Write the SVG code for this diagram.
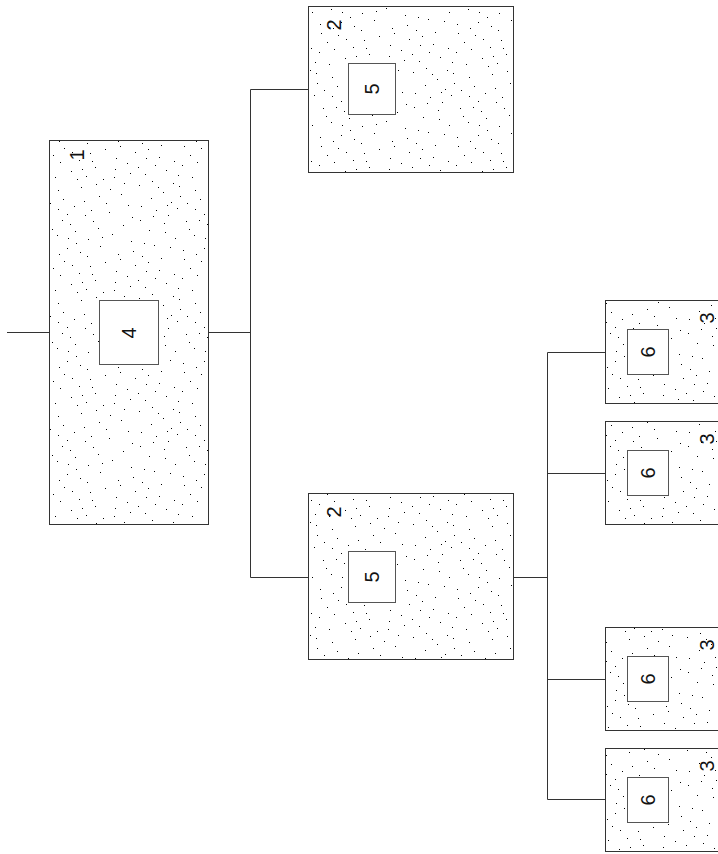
<svg xmlns="http://www.w3.org/2000/svg" width="718" height="854" viewBox="0 0 718 854">
<defs>
<pattern id="dots" patternUnits="userSpaceOnUse" width="137" height="113">
<path fill="none" stroke="#000" stroke-width="1" d="M12,4.5h1M57,9.5h1M98,2.5h1M131,15.5h1M33,21.5h1M76,17.5h1M5,30.5h1M118,28.5h1M64,35.5h1M22,44.5h1M90,40.5h1M45,52.5h1M127,50.5h1M8,61.5h1M71,58.5h1M103,66.5h1M36,70.5h1M58,77.5h1M14,85.5h1M121,81.5h1M84,88.5h1M40,95.5h1M67,101.5h1M109,99.5h1M3,107.5h1M27,110.5h1M93,108.5h1M52,3.5h1M80,26.5h1M17,19.5h1M112,8.5h1M47,33.5h1M135,39.5h1M29,57.5h1M86,63.5h1M60,49.5h1M2,72.5h1M124,70.5h1M99,83.5h1M19,97.5h1M74,93.5h1M132,104.5h1M43,83.5h1M9,45.5h1M55,64.5h1M115,56.5h1M38,12.5h1M88,13.5h1M67,22.5h1M24,32.5h1M105,36.5h1M79,47.5h1M50,90.5h1M31,102.5h1M128,92.5h1M95,54.5h1M15,68.5h1M62,107.5h1M81,74.5h1M41,62.5h1M7,17.5h1M100,20.5h1M70,111.5h1M120,33.5h1M53,42.5h1M26,79.5h1M91,97.5h1M110,76.5h1M34,89.5h1M4,93.5h1M75,5.5h1M130,60.5h1M18,52.5h1M63,86.5h1M87,30.5h1M46,24.5h1M116,45.5h1M28,6.5h1M96,71.5h1M58,96.5h1M11,36.5h1M77,66.5h1M123,112.5h1M37,48.5h1M85,102.5h1M68,12.5h1M106,90.5h1M21,74.5h1M49,108.5h1M133,25.5h1M1,54.5h1M92,48.5h1M42,73.5h1M72,39.5h1M114,64.5h1M59,28.5h1M30,92.5h1M102,11.5h1M82,56.5h1M16,103.5h1"/>
</pattern>
</defs>
<style>
.outer{fill:url(#dots);stroke:#333;stroke-width:1}
.inner{fill:#fff;stroke:#555;stroke-width:1}
.lbl{font-family:"Liberation Sans",Arial,sans-serif;font-size:20px;fill:#111;text-anchor:middle;dominant-baseline:central}
.conn{fill:none;stroke:#333;stroke-width:1}
</style>
<rect width="718" height="854" fill="#fff"/>
<g id="connectors" class="conn">
<path d="M7,332.5H49"/>
<path d="M208,332.5H250.5M250.5,89.5V577.5M250.5,89.5H308M250.5,577.5H308"/>
<path d="M513,577.5H547.5M547.5,352.5V799.5M547.5,352.5H605M547.5,473.5H605M547.5,679.5H605M547.5,799.5H605"/>
</g>
<g id="node1">
<rect class="outer" x="49.5" y="140.5" width="159" height="384"/>
<text class="lbl" transform="translate(77,155) rotate(-90)">1</text>
<rect class="inner" x="99.5" y="300.5" width="59" height="64"/>
<text class="lbl" transform="translate(129,333) rotate(-90)">4</text>
</g>
<g id="node2a">
<rect class="outer" x="308.5" y="6.5" width="205" height="166"/>
<text class="lbl" transform="translate(334,25) rotate(-90)">2</text>
<rect class="inner" x="348.5" y="63.5" width="47" height="51"/>
<text class="lbl" transform="translate(372,89) rotate(-90)">5</text>
</g>
<g id="node2b">
<rect class="outer" x="308.5" y="493.5" width="205" height="166"/>
<text class="lbl" transform="translate(334,512) rotate(-90)">2</text>
<rect class="inner" x="348.5" y="551.5" width="47" height="51"/>
<text class="lbl" transform="translate(372,577) rotate(-90)">5</text>
</g>
<g id="node3a">
<rect class="outer" x="605.5" y="300.5" width="120" height="103"/>
<text class="lbl" transform="translate(707,318) rotate(-90)">3</text>
<rect class="inner" x="627.5" y="329.5" width="41" height="45"/>
<text class="lbl" transform="translate(648,352) rotate(-90)">6</text>
</g>
<g id="node3b">
<rect class="outer" x="605.5" y="421.5" width="120" height="103"/>
<text class="lbl" transform="translate(707,439) rotate(-90)">3</text>
<rect class="inner" x="627.5" y="450.5" width="41" height="45"/>
<text class="lbl" transform="translate(648,473) rotate(-90)">6</text>
</g>
<g id="node3c">
<rect class="outer" x="605.5" y="627.5" width="120" height="103"/>
<text class="lbl" transform="translate(707,645) rotate(-90)">3</text>
<rect class="inner" x="627.5" y="656.5" width="41" height="45"/>
<text class="lbl" transform="translate(648,679) rotate(-90)">6</text>
</g>
<g id="node3d">
<rect class="outer" x="605.5" y="748.5" width="120" height="103"/>
<text class="lbl" transform="translate(707,766) rotate(-90)">3</text>
<rect class="inner" x="627.5" y="777.5" width="41" height="45"/>
<text class="lbl" transform="translate(648,800) rotate(-90)">6</text>
</g>
</svg>
